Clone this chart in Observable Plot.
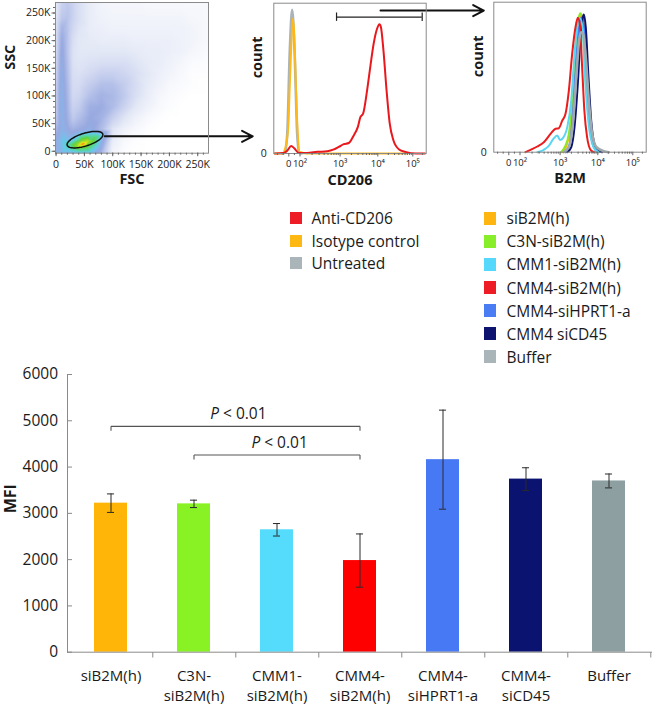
<!DOCTYPE html>
<html><head><meta charset="utf-8">
<script src="https://cdn.jsdelivr.net/npm/d3@7"></script>
<script src="https://cdn.jsdelivr.net/npm/@observablehq/plot@0.6"></script>
<style>
body{margin:0;background:#fff;font-family:"Open Sans",sans-serif;}
#root{position:relative;width:654px;height:704px;overflow:hidden;background:#fff;}
.panel{position:absolute;}
.panel svg{overflow:visible;display:block;}
.legitem{position:absolute;height:20px;line-height:20px;font-size:15.5px;color:#1a1a1a;white-space:nowrap;}
.sw{position:absolute;}
</style></head><body><div id="root"></div>
<script>
// ---------------- DATA ----------------
// Bar chart (MFI)
const barCategories = ["siB2M(h)","C3N-siB2M(h)","CMM1-siB2M(h)","CMM4-siB2M(h)","CMM4-siHPRT1-a","CMM4-siCD45","Buffer"];
const barLabels = ["siB2M(h)","C3N-\nsiB2M(h)","CMM1-\nsiB2M(h)","CMM4-\nsiB2M(h)","CMM4-\nsiHPRT1-a","CMM4-\nsiCD45","Buffer"];
const mfiValues = [3220, 3205, 2645, 1980, 4160, 3740, 3700];
const mfiErrors = [200, 80, 135, 575, 1070, 245, 150];
const barColors = ["#ffb508","#88f224","#55dcfd","#fe0000","#4879f5","#0b1370","#8e9fa2"];
const mfiTicks = [0,1000,2000,3000,4000,5000,6000];
const brackets = [
  {from: 0, to: 3, y: 4880, label: "P < 0.01"},
  {from: 1, to: 3, y: 4260, label: "P < 0.01"}
];

// Legends
const cd206Series = ["Anti-CD206","Isotype control","Untreated"];
const cd206Colors = ["#ee1c25","#fdb813","#a9b5b9"];
const b2mSeries = ["siB2M(h)","C3N-siB2M(h)","CMM1-siB2M(h)","CMM4-siB2M(h)","CMM4-siHPRT1-a","CMM4 siCD45","Buffer"];
const b2mColors = ["#ffb50f","#88ee2a","#55d8fb","#ee1c25","#4a7cf4","#0c1470","#a9b5b9"];

// Scatter density (FSC K x SSC K), level
const densityFSC = [-1,10,20,30,40,60,80,100,120,140,160,180,200,220,240,270];
const densitySSC = [270,240,220,200,180,160,140,120,100,80,60,40,20,-4];
const densityLevels = [
  [0.8,1.7,2.0,1.7,1.3,0.8,0.5,0.4,0.4,0.4,0.3,0.3,0.3,0.3,0.3,0.3],
  [1.0,2.1,2.2,1.7,1.3,0.8,0.6,0.5,0.5,0.5,0.5,0.5,0.5,0.5,0.4,0.3],
  [1.1,2.7,2.2,1.5,1.1,0.8,0.7,0.6,0.6,0.6,0.6,0.6,0.6,0.6,0.5,0.3],
  [1.2,3.0,2.2,1.3,1.0,0.9,0.8,0.8,0.8,0.7,0.7,0.7,0.7,0.6,0.5,0.3],
  [1.3,3.2,2.2,1.2,1.0,1.0,1.0,1.0,1.0,0.9,0.8,0.8,0.7,0.6,0.4,0.2],
  [1.4,3.3,2.3,1.2,1.1,1.2,1.3,1.3,1.3,1.1,0.9,0.8,0.6,0.4,0.2,0.1],
  [1.5,3.4,2.4,1.3,1.2,1.5,1.8,1.8,1.6,1.3,1.0,0.7,0.5,0.3,0.1,0.1],
  [1.6,3.5,2.5,1.4,1.4,1.9,2.3,2.3,1.9,1.4,0.9,0.6,0.3,0.2,0.1,0],
  [1.7,3.6,2.6,1.5,1.6,2.3,2.7,2.5,2.0,1.3,0.8,0.4,0.2,0.1,0,0],
  [1.8,3.6,2.7,1.7,1.9,2.8,2.9,2.4,1.7,1.0,0.6,0.3,0.1,0,0,0],
  [2.0,3.5,2.8,2.0,2.3,3.0,2.7,1.8,1.1,0.6,0.3,0.1,0,0,0,0],
  [2.5,3.5,3.1,2.7,2.9,3.3,2.4,1.1,0.6,0.3,0.1,0,0,0,0,0],
  [3.2,3.8,3.8,4.0,4.6,4.6,3.6,0.8,0.3,0.1,0,0,0,0,0,0],
  [3.4,3.6,3.4,3.6,3.8,3.8,2.6,0.4,0.1,0,0,0,0,0,0,0]
];
const hotspotSamples = [
  [47,13,7],[42,11,6.3],[53,15,6.3],[36,9,5.4],[60,19,5.4],[30,7,4.8],[68,23,4.9],
  [45,19,5.3],[52,8,5.1],[75,27,4.5],[82,31,3.8],[60,27,4.5],[38,16,5.2],[25,12,4.6],
  [32,12,5.1],[66,19,5.1],[56,23,5.2],[41,6,5]
];
const densityColorLevels = [0,0.5,1,1.5,2,2.5,3,3.5,4,4.6,5,5.8,6.3,6.7,7];
const densityColors = ["#ffffff","#f2f4fb","#e3e8f6","#d2d9f1","#c0caec","#abb9e6","#98a9e0","#8cb2e7","#62cde9","#56d68a","#62d23c","#b8e020","#f4e21c","#fb9a14","#f02818"];
const scatterTicks = [0,50,100,150,200,250];
const gate = {cx: 51, cy: 21, a: 33, b: 11.5, angleDeg: 18};
const gateArrow = {x1: 86, y1: 27, x2: 347, y2: 27};

// CD206 histogram [intensity, % of max]
const cd206Anti = [[-125,0],[-45,0.4],[-14,1.8],[21,5],[51,3.3],[89,0.4],[150,0.4],[270,1.1],[480,1.5],[700,2.7],[930,4.4],[1250,6.2],[1700,7],[2300,12],[2960,17.7],[3470,24.3],[4070,26.5],[5200,42],[6310,57.5],[7760,73],[9550,83],[11200,86],[12300,84],[14500,68.6],[17800,42],[21900,20],[27900,8.8],[40600,2.7],[61400,1.1],[126000,0],[240000,0]];
const cd206Isotype = [[-125,0],[-59,0],[-29,4.4],[-5,17.7],[9,46],[24,75],[36,89.6],[48,80],[63,46],[80,13],[98,1],[150,0],[70000,0]];
const cd206Untreated = [[-60,0],[-36,0.4],[-14,13],[9,68.6],[30,95.6],[51,68.6],[75,13],[93,0.4],[110,0]];
const cd206Gate = {lo: 815, hi: 197000, y: 90.7};
const cd206Arrow = {from: 11950, y: 95.1, toDisplay: 210};

// B2M histogram [intensity, % of max]
const b2mSiB2M = [[1137,0],[1480,4.4],[1890,16.7],[2310,41.1],[2840,74.4],[3330,88.9],[3770,91.1],[4260,85.6],[5010,52.2],[6140,21.1],[7840,4.4],[10700,0]];
const b2mC3N = [[1060,0],[1320,3.3],[1706,12.2],[2090,34.4],[2560,67.8],[3130,90],[3470,92.7],[3900,88],[4500,56.7],[5700,23.3],[7450,5.6],[9550,0]];
const b2mCMM1 = [[270,0],[393,1.6],[530,4.4],[680,8.9],[850,11.1],[990,8.2],[1200,9.6],[1550,16.7],[1970,34.4],[2420,65.6],[2950,85.6],[3470,88.9],[4000,81.1],[4600,50],[5700,18.9],[7760,3.3],[10500,0]];
const b2mCMM4 = [[137,0],[183,1.6],[270,3.8],[393,6.7],[577,12.2],[767,15.6],[929,16],[1137,21],[1393,25.6],[1706,41],[2090,65.6],[2560,83.3],[2950,89.6],[3330,85.6],[3840,56.7],[4400,27.8],[5200,10],[6600,1.1],[8000,0]];
const b2mHPRT1 = [[1390,0],[1810,5.6],[2220,27.8],[2720,63.3],[3270,85.6],[3770,90],[4260,84.4],[5010,52.2],[6140,18.9],[7840,3.3],[10000,0]];
const b2mCD45 = [[1540,0],[1970,3.3],[2410,16.7],[2950,45.6],[3470,76.7],[3930,88.9],[4260,91.8],[4800,83.3],[5660,50],[6680,21.1],[8140,5.6],[10700,0.7],[13300,0]];
const b2mBuffer = [[1250,0],[1700,3.3],[2220,21.1],[2720,52.2],[3190,74.4],[3610,80],[4080,78.9],[4800,63.3],[5770,34.4],[7080,12.2],[9250,3.3],[14800,0.7],[20600,0]];

const histMajorTicks = [0,100,1000,10000,100000];
const histMajorLabels = ["0","10\u00b2","10\u00b3","10\u2074","10\u2075"];

// ---------------- HELPERS ----------------
// logicle-like display transform of the cytometer axis
const dispKnots = [[2,26.2],[3,66.3],[4,104],[5,139],[5.42,152.4]];
function disp(v){
  if (v <= 100) return 15 + v*0.112;
  const l = Math.log10(v);
  for (let i=0;i<dispKnots.length-1;i++){
    const [a,pa]=dispKnots[i],[b,pb]=dispKnots[i+1];
    if (l<=b || i===dispKnots.length-2) return pa+(l-a)/(b-a)*(pb-pa);
  }
}
const histMinor = [-100,-50,50];
for (let n=2;n<=4;n++) for (let k=2;k<=9;k++) histMinor.push(k*10**n);
histMinor.push(200000);

const root = document.getElementById("root");
function place(node, left, top, w){
  const d = document.createElement("div");
  d.className = "panel"; d.style.left = left+"px"; d.style.top = top+"px"; d.style.width = w+"px";
  d.appendChild(node); root.appendChild(d); return d;
}
const baseStyle = {fontFamily: "'Open Sans', sans-serif", background: "transparent", overflow: "visible", color: "#1a1a1a"};

// ---------------- SCATTER ----------------
const densitySamples = [];
densitySSC.forEach((s,ri)=>densityFSC.forEach((f,ci)=>densitySamples.push({fsc:f, ssc:s, level:densityLevels[ri][ci]})));
hotspotSamples.forEach(([f,s,l])=>densitySamples.push({fsc:f, ssc:s, level:l}));
const th = gate.angleDeg*Math.PI/180;
const gatePts = d3.range(0, 361, 4).map(t=>{
  const r=t*Math.PI/180;
  return {x: gate.cx + gate.a*Math.cos(r)*Math.cos(th) - gate.b*Math.sin(r)*Math.sin(th),
          y: gate.cy + gate.a*Math.cos(r)*Math.sin(th) + gate.b*Math.sin(r)*Math.cos(th)};
});
const kfmt = d => d===0 ? "0" : d+"K";
const scatter = Plot.plot({
  width: 215, height: 195, marginLeft: 55, marginRight: 7, marginTop: 2, marginBottom: 42.3,
  x: {domain: [-1, 269], label: null}, y: {domain: [-3.5, 269], label: null},
  color: {type: "linear", domain: densityColorLevels, range: densityColors},
  style: {...baseStyle, fontSize: "10.5px"},
  marks: [
    Plot.raster(densitySamples, {x: "fsc", y: "ssc", fill: "level", interpolate: "barycentric"}),
    Plot.line(gatePts, {x: "x", y: "y", stroke: "#111", strokeWidth: 1.5}),
    Plot.arrow([gateArrow], {x1: "x1", y1: "y1", x2: "x2", y2: "y2", stroke: "#111", strokeWidth: 2, headLength: 9, headAngle: 55}),
    Plot.frame({stroke: "#8a8a8a"}),
    Plot.axisX(d3.range(0, 270, 10), {tickSize: 2, tickFormat: () => "", stroke: "#666"}),
    Plot.axisY(d3.range(0, 270, 10), {tickSize: 2, tickFormat: () => "", stroke: "#666"}),
    Plot.axisX(scatterTicks, {tickSize: 3.5, tickPadding: 3.5, tickFormat: kfmt, stroke: "#666", fontSize: 10.5}),
    Plot.axisY(scatterTicks, {tickSize: 3.5, tickPadding: 1.5, tickFormat: kfmt, stroke: "#666", fontSize: 10.5}),
    Plot.text(["FSC"], {text: d=>d, frameAnchor: "bottom", dy: 31, fontWeight: "bold", fontSize: 14.5}),
    Plot.text(["SSC"], {text: d=>d, frameAnchor: "left", dx: -45, dy: -8, rotate: -90, fontWeight: "bold", fontSize: 14.5})
  ]
});
place(scatter, 0, 0, 215);

// ---------------- HISTOGRAMS ----------------
function histPlot({width, marginTop, marginBottom, series, extra, xLabel, countDx}){
  const labelByPos = new Map(histMajorTicks.map((v,i)=>[disp(v), histMajorLabels[i]]));
  return Plot.plot({
    width, height: 195, marginLeft: 53.3, marginRight: width-53.3-152.4, marginTop, marginBottom,
    x: {domain: [0, 152.4], label: null}, y: {domain: [0, 100], label: null},
    style: {...baseStyle, fontSize: "9.5px"},
    marks: [
      ...series.map(s => Plot.line(s.points.map(([v,c])=>({x: disp(v), y: c})),
        {x: "x", y: "y", stroke: s.color, strokeWidth: s.width || 2, curve: "monotone-x"})),
      ...extra,
      Plot.frame({stroke: "#8a8a8a"}),
      Plot.axisX(histMinor.map(disp), {tickSize: 2, tickFormat: () => "", stroke: "#666"}),
      Plot.axisX(histMajorTicks.map(disp), {tickSize: 3.5, tickPadding: 3.5, tickFormat: d => labelByPos.get(d), stroke: "#666", fontSize: 9.5}),
      Plot.axisY([0], {tickSize: 0, tickPadding: 7, fontSize: 10.5}),
      Plot.text([xLabel], {text: d=>d, frameAnchor: "bottom", dy: 31, fontWeight: "bold", fontSize: 14.5}),
      Plot.text(["count"], {text: d=>d, frameAnchor: "left", dx: countDx, rotate: -90, fontWeight: "bold", fontSize: 14.5})
    ]
  });
}
const cd206Plot = histPlot({
  width: 215, marginTop: 2.7, marginBottom: 42, xLabel: "CD206", countDx: -16.3,
  series: [
    {points: cd206Untreated, color: "#aab3b8", width: 2.6},
    {points: cd206Isotype, color: "#ffb81a"},
    {points: cd206Anti, color: "#e8181d"}
  ],
  extra: [
    Plot.ruleY([cd206Gate], {x1: d=>disp(d.lo), x2: d=>disp(d.hi), y: "y", stroke: "#222", strokeWidth: 1.2}),
    Plot.ruleX([cd206Gate.lo, cd206Gate.hi], {x: d=>disp(d), y1: cd206Gate.y-2.8, y2: cd206Gate.y+2.8, stroke: "#222", strokeWidth: 1.2}),
    Plot.arrow([cd206Arrow], {x1: d=>disp(d.from), y1: "y", x2: "toDisplay", y2: "y", stroke: "#111", strokeWidth: 2, headLength: 9, headAngle: 55})
  ]
});
place(cd206Plot, 220, 0, 215);

const b2mPlot = histPlot({
  width: 214, marginTop: 1.7, marginBottom: 43.3, xLabel: "B2M", countDx: -15.3,
  series: [
    {points: b2mSiB2M, color: "#ffb400"},
    {points: b2mC3N, color: "#8be82a"},
    {points: b2mHPRT1, color: "#4a7ef5"},
    {points: b2mCD45, color: "#0b1470"},
    {points: b2mCMM1, color: "#5ad6f2"},
    {points: b2mCMM4, color: "#ea1c1c"},
    {points: b2mBuffer, color: "#a0aaad", width: 2.6}
  ],
  extra: []
});
place(b2mPlot, 440, 0, 214);

// ---------------- LEGENDS ----------------
function legend(items, colors, swLeft, textLeft, y0, dy, size){
  items.forEach((t,i)=>{
    const cy = y0 + i*dy;
    const sw = document.createElement("div");
    sw.className = "sw";
    Object.assign(sw.style, {left: swLeft+"px", top: (cy-size/2)+"px", width: size+"px", height: size+"px", background: colors[i]});
    root.appendChild(sw);
    const lab = document.createElement("div");
    lab.className = "legitem";
    lab.style.left = textLeft+"px"; lab.style.top = (cy-10)+"px";
    lab.textContent = t;
    root.appendChild(lab);
  });
}
legend(cd206Series, cd206Colors, 290, 311.5, 218, 22.6, 12);
legend(b2mSeries, b2mColors, 483.5, 506.5, 218.3, 23.07, 12.5);

// ---------------- BAR CHART ----------------
const bW = 654, bH = 344, bML = 67, bMR = 2, bMT = 14, bMB = 52.3;
const step = (bW - bML - bMR) / barCategories.length;
const barData = barCategories.map((c,i)=>({cat: c, mfi: mfiValues[i], err: mfiErrors[i], color: barColors[i]}));
const labelMap = new Map(barCategories.map((c,i)=>[c, barLabels[i]]));
const bracketSegs = [];
brackets.forEach(b=>{
  const f = barCategories[b.from], t = barCategories[b.to];
  bracketSegs.push({x1: f, x2: f, y1: b.y-95, y2: b.y});
  bracketSegs.push({x1: t, x2: t, y1: b.y-95, y2: b.y});
  bracketSegs.push({x1: f, x2: t, y1: b.y, y2: b.y});
});
const capInset = (step*0.4 - 7.5)/2;
const barPlot = Plot.plot({
  width: bW, height: bH, marginLeft: bML, marginRight: bMR, marginTop: bMT, marginBottom: bMB,
  x: {domain: barCategories, paddingInner: 0.6, paddingOuter: 0.3, label: null},
  y: {domain: [0, 6000], label: null},
  style: {...baseStyle, fontSize: "15.5px"},
  marks: [
    Plot.barY(barData, {x: "cat", y: "mfi", fill: "color"}),
    Plot.ruleX(barData, {x: "cat", y1: d=>d.mfi-d.err, y2: d=>d.mfi+d.err, stroke: "#2a2a2a"}),
    Plot.tickY(barData, {x: "cat", y: d=>d.mfi-d.err, insetLeft: capInset, insetRight: capInset, stroke: "#2a2a2a"}),
    Plot.tickY(barData, {x: "cat", y: d=>d.mfi+d.err, insetLeft: capInset, insetRight: capInset, stroke: "#2a2a2a"}),
    Plot.link(bracketSegs, {x1: "x1", x2: "x2", y1: "y1", y2: "y2", stroke: "#555", strokeWidth: 1.1}),
    ...brackets.map(b => Plot.text([b], {x: d=>barCategories[d.from], y: "y", text: "label", dx: (b.to-b.from)*step/2 + 2, dy: -12.3, fontSize: 15.5})),
    Plot.ruleY([0], {stroke: "#8a8a8a"}),
    Plot.frame({anchor: "left", stroke: "#8a8a8a"}),
    Plot.tickY(mfiTicks, {y: d=>d, insetRight: bW-bML-bMR-5, stroke: "#8a8a8a"}),
    Plot.link(barCategories, {x1: d=>d, x2: d=>d, y1: 0, y2: -115, dx: step/2, stroke: "#8a8a8a"}),
    Plot.axisY(mfiTicks, {tickSize: 0, tickPadding: 9.5, tickFormat: d=>String(d), fontSize: 15.5}),
    Plot.axisX({tickSize: 0, tickPadding: 15, tickFormat: d=>labelMap.get(d), lineHeight: 1.3, fontSize: 15}),
    Plot.text(["MFI"], {text: d=>d, frameAnchor: "left", dx: -56.5, rotate: -90, fontWeight: "bold", fontSize: 16})
  ]
});
barPlot.querySelectorAll("text").forEach(t=>{
  if (t.textContent === "P < 0.01"){
    t.textContent = "";
    const ns = "http://www.w3.org/2000/svg";
    const a = document.createElementNS(ns, "tspan"); a.setAttribute("font-style", "italic"); a.textContent = "P";
    const b = document.createElementNS(ns, "tspan"); b.textContent = " < 0.01";
    t.appendChild(a); t.appendChild(b);
  }
});
place(barPlot, 0, 360, 654);
</script></body></html>
